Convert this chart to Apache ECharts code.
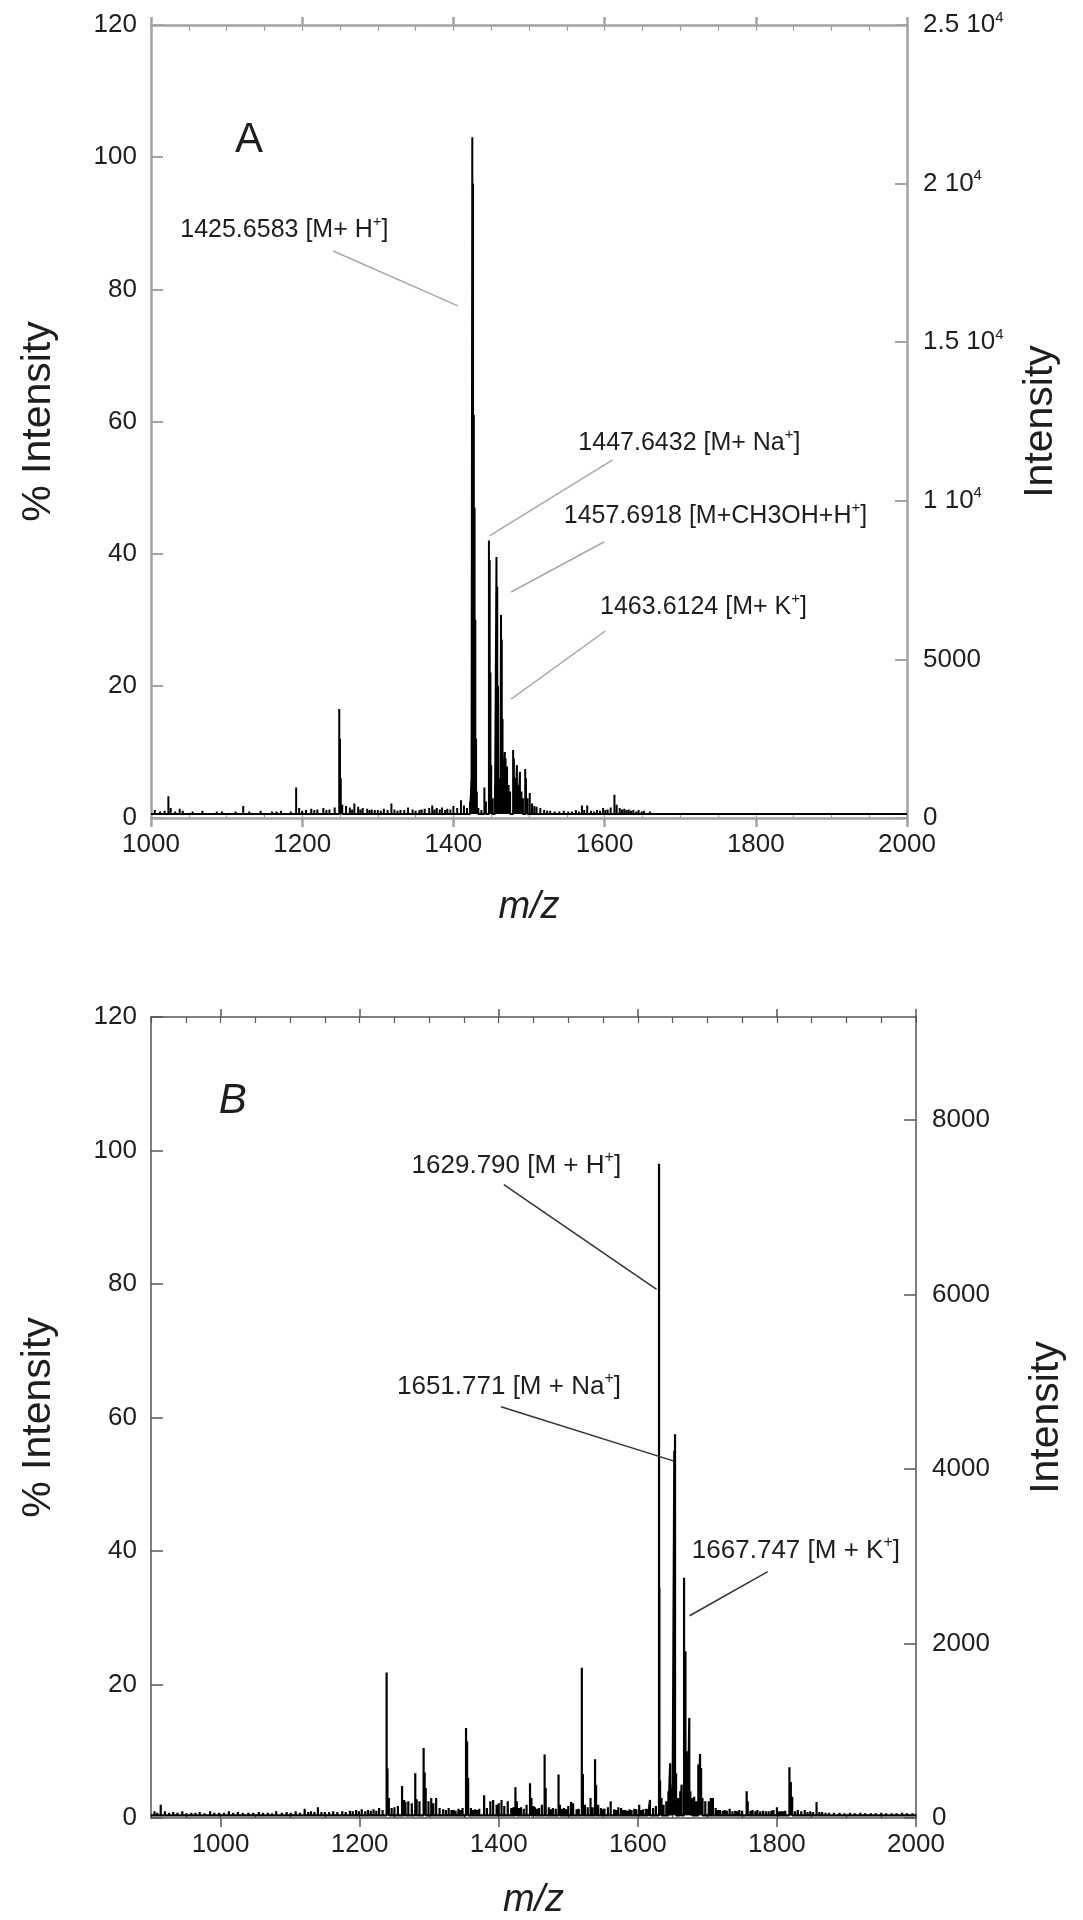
<!DOCTYPE html>
<html><head><meta charset="utf-8">
<script src="https://cdn.jsdelivr.net/npm/echarts@6/dist/echarts.min.js"></script>
<style>html,body{margin:0;padding:0;background:#fff}#c{width:1083px;height:1920px}</style>
</head><body><div id="c"></div>
<script>
// ---------- Panel A data (m/z, % intensity) ----------
const peaksA_mz = [1005,1012,1018,1023,1026,1032,1038,1042,1048,1055,1061,1068,1074,1080,1087,1094,1099,1105,1112,1118,1122,1130,1137,1145,1152,1160,1166,1172,1178,1185,1192,1196,1200,1205,1212,1216,1220,1228,1232,1236,1243,1249,1250,1251,1253,1258,1263,1266,1269,1274,1277,1280,1286,1289,1292,1296,1300,1304,1308,1313,1318,1322,1326,1330,1335,1340,1346,1350,1355,1358,1362,1368,1372,1375,1378,1382,1385,1389,1392,1396,1400,1405,1410,1414,1418,
1422,1424,1425,1426,1427,1428,1429,1430,1431,1433,1437,1441,1443,1447,1448,1449,1450,1452,1455,1457,1458,1459,1460,1462,1463,1464,1465,1466,1468,1469,1471,1473,1475,1479,1480,1482,1484,1486,1488,1490,1492,1495,1496,1498,1501,1504,1507,1510,1515,1520,1524,1528,1534,1540,1546,1552,1557,1562,1566,1570,1573,1577,1582,1586,1590,1594,1598,1601,1604,1608,1613,1616,1620,1623,1626,1629,1632,1635,1638,1642,1645,1649,1652,1656,1660,1666,1672,1678,1685,1692,1700,1706,1712,1719,1725,1732,1740,1747,1755,1762,1770,1777,1785,1792,1800,1807,1815,1822,1830,1839,1848,1855,1862,1871,1880,1887,1895,1902,1910,1920,1930,1940,1950,1960,1970,1980,1990];
const peaksA_int = [1.2,1.0,1.1,3.3,1.5,1.0,1.4,1.1,0.9,1.0,0.9,1.1,0.9,0.9,1.0,1.0,0.9,0.9,1.0,0.9,1.8,1.0,0.9,1.1,0.9,1.0,1.0,1.1,0.9,1.0,4.6,1.5,1.1,1.2,1.4,1.2,1.3,1.5,1.2,1.3,1.6,16.5,12,6,2,1.8,1.6,1.3,2.2,1.7,1.3,1.5,1.4,1.2,1.3,1.2,1.2,1.1,1.4,1.2,2.2,1.3,1.1,1.2,1.2,1.6,1.3,1.1,1.2,1.3,1.4,1.5,1.9,1.3,1.5,1.3,1.6,1.2,1.4,1.3,1.8,1.5,2.7,1.9,1.5,
2.5,6,103,96,61,47,30,12,4,1.5,1.2,4.6,2.5,42,39,22,8,3,5,39.5,35,20,6,6,30.7,27,15,8,10,9,7.8,5,4,10.3,9,6,8,5,7,4,3,7.4,6,3,3.8,2.2,1.8,1.7,1.5,1.2,1.1,1.1,1.0,1.0,1.1,1.0,1.0,1.2,1.0,1.9,1.2,1.9,1.1,1.0,1.2,1.1,1.5,1.2,1.3,1.6,3.5,2.0,1.5,1.3,1.4,1.2,1.3,1.1,1.2,1.0,1.2,1.0,1.1,0.9,1.0,0.9,0.9,0.9,0.9,0.9,0.9,0.8,0.8,0.8,0.9,0.8,0.8,0.8,0.8,0.8,0.8,0.8,0.9,0.8,0.8,0.8,0.8,0.8,0.8,0.8,0.8,0.7,0.8,0.7,0.7,0.8,0.7,0.7,0.8,0.7,0.7,0.7,0.7];
const baseA = 0.6;
const rangeA = [1000, 2000];
const rightMaxA = 25000;
const annA_text = ['1425.6583 [M+ H|+|]', '1447.6432 [M+ Na|+|]', '1457.6918 [M+CH3OH+H|+|]', '1463.6124 [M+ K|+|]'];
const annA_pos = [[1038.7, 89], [1565.3, 56.7], [1546, 45.7], [1594, 31.9]];
const annA_lines = [[[1241, 85.8], [1406, 77.5]], [[1610.6, 54.2], [1447.7, 42.7]], [[1599.7, 41.8], [1476.3, 34.2]], [[1601, 28.3], [1476.3, 18.0]]];
const letterA_pos = [1129.7, 102.5];

// ---------- Panel B data (m/z, % intensity) ----------
const peaksB_mz = [905,909,914,920,926,932,938,945,951,958,964,970,977,985,991,998,1005,1012,1018,1025,1032,1040,1047,1055,1061,1068,1074,1080,1088,1095,1101,1108,1114,1121,1126,1130,1135,1140,1145,1150,1156,1162,1168,1175,1180,1186,1190,1195,1199,1203,1208,1212,1216,1220,1224,1228,1233,
1238.8,1240,1242,1246,1250,1255,1261,1264,1266,1270,1275,1280,1282,1286,1292,1293.5,1295,1299,1303,1306,1310,1315,1320,1324,1328,1332,1335,1338,1342,1345,1348,1353,1354.5,1356,1360,1363,1366,1369,1372,1379,1383,1388,1392,1397,1400,1404,1408,1413,1418,1421,1424,1426,1429,1432,1436,1440,1445,1447,1450,1452,1455,1458,1462,1466,1467.5,1472,1475,1478,1482,1486,1488,1491,1494,1497,1500,1504,1507,1512,1515,1519.5,1521,1524,1528,1532,1535,1538.5,1540,1543,1547,1550,1552,1557,1561,1566,1569,1572,1576,1579,1582,1585,1588,1591,1595,1598,1602,1605,1608,1612,1615,1617.5,1622,1626,
1630.5,1631,1632,1634,1637,1641,1644,1646.5,1648,1650,1652.5,1653.5,1655,1658,1661,1663,1666.5,1668.5,1670,1672,1674,1675.5,1678,1681,1684,1687,1689.5,1691,1693,1697,1702,1705,1708,1712,1715,1718,1722,1725,1728,1732,1736,1740,1743,1746,1750,1756.5,1758,1762,1765,1769,1772,1776,1780,1784,1788,1792,1795,1800,1803,1806,1809,1812,1818,1820,1822,1826,1830,1835,1840,1844,1848,1852,1857,1861,1865,1870,1875,1882,1890,1897,1905,1912,1920,1927,1935,1942,1950,1957,1965,1972,1980,1987,1995];
const peaksB_int = [1.0,0.8,2.0,1.0,0.8,0.9,0.8,1.0,0.7,0.8,0.8,0.9,0.7,1.0,0.8,0.8,0.8,1.0,0.8,0.9,0.8,0.8,0.8,0.9,0.8,0.8,0.7,1.0,0.8,0.9,0.8,1.0,0.8,1.4,0.9,1.0,0.9,1.6,0.9,0.9,0.9,1.0,0.9,1.0,0.9,1.1,1.0,1.2,1.0,1.3,1.0,1.2,1.1,1.3,1.1,1.5,1.2,
21.8,7.4,3,1.5,1.6,1.8,4.8,2.7,2.4,2.5,2.2,6.7,2.8,2.5,10.5,6.8,4.5,2.5,3.0,2.2,3.0,1.5,1.3,1.2,1.5,1.2,1.2,1.1,1.4,1.2,1.5,13.5,11.5,6,1.5,1.2,1.3,1.2,1.4,3.4,1.5,2.5,2.7,2.0,2.2,2.7,1.8,2.5,1.5,1.6,4.6,2.5,1.5,1.6,1.4,2.0,5.2,3.0,1.8,1.6,1.4,1.5,2.0,9.5,4.5,1.6,1.3,1.5,1.4,6.5,2,1.4,1.5,1.3,1.8,2.4,2.2,1.3,1.4,22.5,6.6,2,1.6,3.0,1.6,8.8,5,2,1.5,1.3,1.4,1.6,2.5,1.3,1.2,1.6,1.5,1.2,1.2,1.1,1.3,1.2,1.4,1.3,2.0,1.2,1.3,1.4,1.3,2.7,1.5,1.8,
98,34.5,5.6,3,2,2.5,4,8.2,4.2,5,55,57.5,6.7,3,4,5,36,25,10,5,15,4,3,3.2,2.5,8,9.6,7.5,3,2.5,2.5,3,3,1.5,1.2,1.2,1.1,1.2,1.1,1.4,1.0,1.1,1.0,1.2,1.1,4.0,2.5,1.1,1.2,1.0,1.2,1.0,1.1,1.0,1.0,1.1,1.2,1.6,1.0,1.0,1.0,1.1,7.6,5.4,3.2,1.0,1.2,1.0,1.2,0.9,1.0,0.9,2.4,0.9,0.9,0.8,0.8,0.8,0.8,0.7,0.8,0.7,0.8,0.7,0.7,0.7,0.8,0.7,0.7,0.7,0.8,0.7,0.7];
const baseB = 0.4;
const rangeB = [900, 2000];
const rightMaxB = 9180;
const ticksB_x = [1000, 1200, 1400, 1600, 1800, 2000];
const ticksB_right = [0, 2000, 4000, 6000, 8000];
const annB_text = ['1629.790 [M + H|+|]', '1651.771 [M + Na|+|]', '1667.747 [M + K|+|]'];
const annB_pos = [[1274.7, 97.7], [1253.7, 64.6], [1677.7, 40.1]];
const annB_lines = [[[1407.3, 94.9], [1627, 79.2]], [[1403.2, 61.6], [1651, 53.5]], [[1786.8, 36.9], [1674.5, 30.3]]];
const letterB_pos = [1017.6, 107.3];

// ---------- helpers ----------
function sticks(mz, h, base, range) {
  const out = [[range[0], base]];
  for (let i = 0; i < mz.length; i++) { out.push([mz[i], base], [mz[i], h[i]], [mz[i], base]); }
  out.push([range[1], base]);
  return out;
}
const FONT = "'Liberation Sans', Arial, Helvetica, sans-serif";
function richAnn(size, color) {
  return { n: { fontSize: size, fontFamily: FONT, color: color, lineHeight: size + 6 },
           s: { fontSize: Math.round(size * 0.6), fontFamily: FONT, color: color, verticalAlign: 'top', lineHeight: Math.round(size * 0.6) } };
}
function annFormat(t) { const p = t.split('|'); return '{n|' + p[0] + '}{s|' + p[1] + '}{n|' + p[2] + '}'; }
function annPoints(texts, pos, size, color) {
  return texts.map((t, i) => ({ coord: pos[i], symbolSize: 0,
    label: { show: true, position: 'right', distance: 0, formatter: annFormat(t), rich: richAnn(size, color) } }));
}
function annLines(lines) { return lines.map(l => [{ coord: l[0] }, { coord: l[1] }]); }
const plain = v => String(v);

const grayA = '#a3a3a3', darkB = '#555555', txt = '#1e1e1e';
function xAxes(grid, range, major, color, lw, labelSize, nameGap, customMajor) {
  const base = { type: 'value', gridIndex: grid, min: range[0], max: range[1], splitLine: { show: false } };
  const majorTick = customMajor ? { customValues: customMajor } : {};
  const majorLab = customMajor ? { customValues: customMajor } : {};
  return [
    Object.assign({}, base, { position: 'bottom', interval: customMajor ? undefined : major,
      axisLine: { show: true, lineStyle: { color: color, width: lw } },
      axisTick: Object.assign({ show: true, inside: false, length: 9, lineStyle: { color: color, width: lw } }, majorTick),
      axisLabel: Object.assign({ show: true, fontSize: labelSize, fontFamily: FONT, color: txt, margin: 14, formatter: plain }, majorLab),
      name: 'm/z', nameLocation: 'middle', nameGap: nameGap,
      nameTextStyle: { fontSize: 38, fontStyle: 'italic', fontFamily: FONT, color: txt } }),
    Object.assign({}, base, { position: 'bottom', interval: 50, axisLine: { show: false },
      axisTick: { show: true, inside: true, length: 4, lineStyle: { color: color, width: 1.2 } }, axisLabel: { show: false } }),
    Object.assign({}, base, { position: 'top', interval: customMajor ? undefined : major,
      axisLine: { show: true, lineStyle: { color: color, width: lw } },
      axisTick: Object.assign({ show: true, inside: false, length: 8, lineStyle: { color: color, width: lw } }, majorTick),
      axisLabel: { show: false } }),
    Object.assign({}, base, { position: 'top', interval: 50, axisLine: { show: false },
      axisTick: { show: true, inside: true, length: 6, lineStyle: { color: color, width: 1.2 } }, axisLabel: { show: false } })
  ];
}

const supRich = { n: { fontSize: 26, fontFamily: FONT, color: txt, lineHeight: 30 },
                  s: { fontSize: 15, fontFamily: FONT, color: txt, verticalAlign: 'top', lineHeight: 15 } };

const option = {
  animation: false,
  backgroundColor: '#ffffff',
  grid: [
    { left: 151, top: 25, width: 756, height: 793 },
    { left: 151, top: 1017, width: 765, height: 805 }
  ],
  xAxis: [].concat(
    xAxes(0, rangeA, 200, grayA, 2.5, 26, 70, null),
    xAxes(1, rangeB, 200, darkB, 1.5, 26, 63, ticksB_x)
  ),
  yAxis: [
    { type: 'value', gridIndex: 0, position: 'left', min: 0, max: 120, interval: 20,
      axisLine: { show: true, lineStyle: { color: grayA, width: 2.5 } },
      axisTick: { show: true, inside: true, length: 12, lineStyle: { color: grayA, width: 2 } },
      axisLabel: { fontSize: 26, fontFamily: FONT, color: txt, margin: 14, formatter: plain }, splitLine: { show: false },
      name: '% Intensity', nameLocation: 'middle', nameGap: 92,
      nameTextStyle: { fontSize: 41, fontFamily: FONT, color: txt } },
    { type: 'value', gridIndex: 0, position: 'right', min: 0, max: rightMaxA, interval: 5000,
      axisLine: { show: true, lineStyle: { color: grayA, width: 2.5 } },
      axisTick: { show: true, inside: true, length: 12, lineStyle: { color: grayA, width: 2 } },
      axisLabel: { margin: 16, rich: supRich,
        formatter: v => v >= 10000 ? '{n|' + (v / 10000) + ' 10}{s|4}' : '{n|' + v + '}' },
      splitLine: { show: false },
      name: 'Intensity', nameLocation: 'middle', nameGap: 113, nameRotate: 90,
      nameTextStyle: { fontSize: 41, fontFamily: FONT, color: txt } },
    { type: 'value', gridIndex: 1, position: 'left', min: 0, max: 120, interval: 20,
      axisLine: { show: true, lineStyle: { color: darkB, width: 1.5 } },
      axisTick: { show: true, inside: true, length: 12, lineStyle: { color: darkB, width: 1.5 } },
      axisLabel: { fontSize: 26, fontFamily: FONT, color: txt, margin: 14, formatter: plain }, splitLine: { show: false },
      name: '% Intensity', nameLocation: 'middle', nameGap: 92,
      nameTextStyle: { fontSize: 41, fontFamily: FONT, color: txt } },
    { type: 'value', gridIndex: 1, position: 'right', min: 0, max: rightMaxB,
      axisLine: { show: true, lineStyle: { color: darkB, width: 1.5 } },
      axisTick: { show: true, inside: true, length: 12, customValues: ticksB_right, lineStyle: { color: darkB, width: 1.5 } },
      axisLabel: { fontSize: 26, fontFamily: FONT, color: txt, margin: 16, customValues: ticksB_right, formatter: plain },
      splitLine: { show: false },
      name: 'Intensity', nameLocation: 'middle', nameGap: 110, nameRotate: 90,
      nameTextStyle: { fontSize: 41, fontFamily: FONT, color: txt } }
  ],
  series: [
    { type: 'line', xAxisIndex: 0, yAxisIndex: 0, data: sticks(peaksA_mz, peaksA_int, baseA, rangeA),
      showSymbol: false, symbol: 'none', lineStyle: { color: '#000', width: 2 }, z: 3,
      markLine: { silent: true, symbol: ['none', 'none'], label: { show: false },
        lineStyle: { color: '#a8a8a8', width: 1.5, type: 'solid' }, data: annLines(annA_lines) },
      markPoint: { silent: true, data: annPoints(annA_text, annA_pos, 25, txt).concat([
        { coord: letterA_pos, symbolSize: 0, label: { show: true, position: 'inside', formatter: 'A', fontSize: 42, fontFamily: FONT, color: txt } }]) } },
    { type: 'line', xAxisIndex: 4, yAxisIndex: 2, data: sticks(peaksB_mz, peaksB_int, baseB, rangeB),
      showSymbol: false, symbol: 'none', lineStyle: { color: '#000', width: 2.2 }, z: 3,
      markLine: { silent: true, symbol: ['none', 'none'], label: { show: false },
        lineStyle: { color: '#333', width: 1.5, type: 'solid' }, data: annLines(annB_lines) },
      markPoint: { silent: true, data: annPoints(annB_text, annB_pos, 26, txt).concat([
        { coord: letterB_pos, symbolSize: 0, label: { show: true, position: 'inside', formatter: 'B', fontSize: 42, fontStyle: 'italic', fontFamily: FONT, color: txt } }]) } }
  ]
};
const chart = echarts.init(document.getElementById('c'), null, { renderer: 'canvas' });
chart.setOption(option);
</script></body></html>
